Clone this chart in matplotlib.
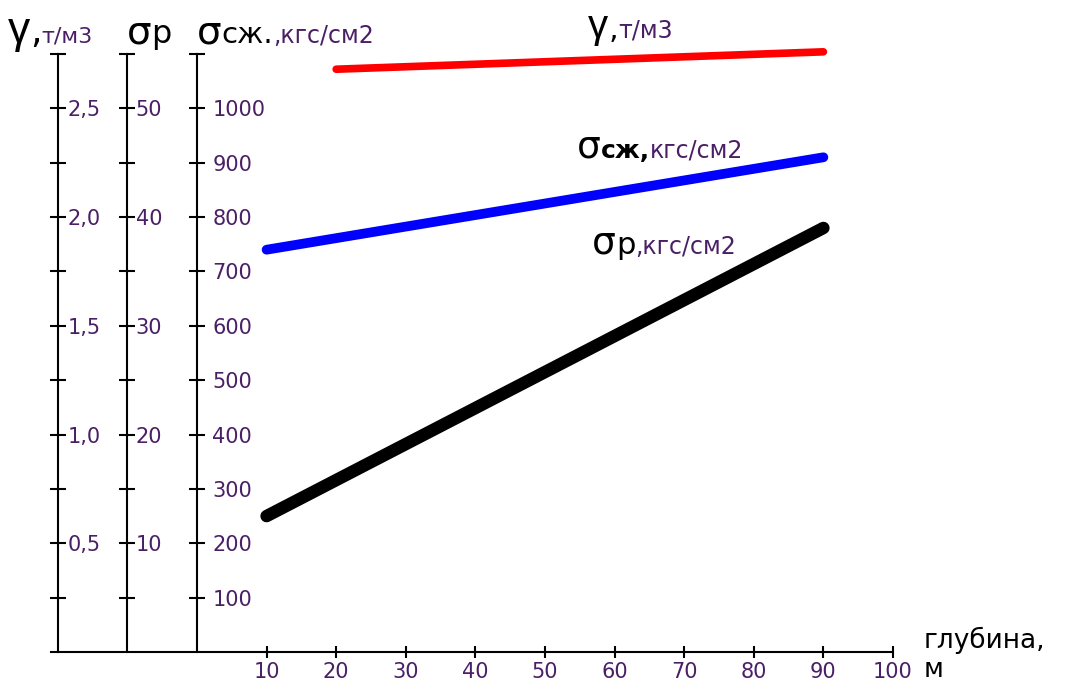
import matplotlib
matplotlib.use('Agg')
import matplotlib.pyplot as plt

plt.rcParams['font.family'] = ['DejaVu Sans']

# данные
depth_gamma = [20, 90]
gamma = [2.68, 2.76]          # т/м3
depth_szh = [10, 90]
sigma_szh = [740, 910]        # кгс/см2
depth_p = [10, 90]
sigma_p = [12.5, 39]          # кгс/см2

x_ticks = [10, 20, 30, 40, 50, 60, 70, 80, 90, 100]
x_labels = ['10', '20', '30', '40', '50', '60', '70', '80', '90', '100']
szh_ticks = [100, 200, 300, 400, 500, 600, 700, 800, 900, 1000, 1100]
szh_labels = ['100', '200', '300', '400', '500', '600', '700', '800', '900', '1000', '']
p_ticks = [5, 10, 15, 20, 25, 30, 35, 40, 45, 50, 55]
p_labels = ['', '10', '', '20', '', '30', '', '40', '', '50', '']
g_ticks = [0.25, 0.5, 0.75, 1.0, 1.25, 1.5, 1.75, 2.0, 2.25, 2.5, 2.75]
g_labels = ['', '0,5', '', '1,0', '', '1,5', '', '2,0', '', '2,5', '']

W, H = 1071, 682
TXT = '#4a1f66'
GAM = ['Liberation Sans', 'DejaVu Sans']

fig = plt.figure(figsize=(W / 100, H / 100), dpi=100)
ax = fig.add_axes([50.8 / W, 30 / H, (893 - 50.8) / W, (652 - 54) / H])
ax_p = ax.twinx()
ax_g = ax.twinx()

ax.set_xlim(-21, 100)
ax.set_ylim(0, 1100)
ax_p.set_ylim(0, 55)
ax_g.set_ylim(0, 2.75)

for a in (ax, ax_p, ax_g):
    for s in a.spines.values():
        s.set_visible(False)
        s.set_linewidth(1.5)

ax.spines['bottom'].set_visible(True)
ax.spines['right'].set_visible(True)
ax.spines['right'].set_position(('data', 0))
ax_p.spines['right'].set_visible(True)
ax_p.spines['right'].set_position(('data', -10))
ax_g.spines['right'].set_visible(True)
ax_g.spines['right'].set_position(('data', -20))

ax.yaxis.tick_right()
ax.set_yticks(szh_ticks, szh_labels)
ax_p.set_yticks(p_ticks, p_labels)
ax_g.set_yticks(g_ticks, g_labels)
ax.set_xticks(x_ticks, x_labels)

ax.tick_params(axis='y', direction='inout', length=12, width=1.5, pad=5,
               labelsize=15, labelcolor=TXT)
ax_p.tick_params(axis='y', direction='inout', length=12, width=1.5, pad=0,
                 labelsize=15, labelcolor=TXT)
ax_g.tick_params(axis='y', direction='inout', length=12, width=1.5, pad=1,
                 labelsize=15, labelcolor=TXT)
ax.tick_params(axis='x', direction='inout', length=8, width=1.5, pad=3,
               labelsize=15, labelcolor=TXT)

ax.plot(depth_szh, sigma_szh, color='#0000ff', lw=7, solid_capstyle='round')
ax_p.plot(depth_p, sigma_p, color='black', lw=9, solid_capstyle='round')
ax_g.plot(depth_gamma, gamma, color='#ff0000', lw=5.5, solid_capstyle='round',
          clip_on=False)

renderer = fig.canvas.get_renderer()


def rich_text(x, y, parts):
    # x, y - пиксели от левого верхнего угла (базовая линия)
    for s, size, color, weight, fam in parts:
        t = fig.text(x / W, 1 - y / H, s, fontsize=size, color=color,
                     weight=weight, family=fam, ha='left', va='baseline')
        x += t.get_window_extent(renderer).width


D = ['DejaVu Sans']
rich_text(8, 43, [('γ', 32, 'black', 'normal', GAM), (',', 26, 'black', 'normal', D),
                  ('т/м3', 16, TXT, 'normal', D)])
rich_text(127, 43, [('σ', 28, 'black', 'normal', D), ('р', 23, 'black', 'normal', D)])
rich_text(197, 43, [('σ', 28, 'black', 'normal', D), ('сж.', 21, 'black', 'normal', D),
                    (',кгс/см2', 17, TXT, 'normal', D)])

rich_text(588, 38, [('γ', 29, 'black', 'normal', GAM), (',', 22, 'black', 'normal', D),
                    ('т/м3', 17, TXT, 'normal', D)])
rich_text(577, 158, [('σ', 27, 'black', 'normal', D), ('сж,', 18, 'black', 'bold', D),
                     ('кгс/см2', 17, TXT, 'normal', D)])
rich_text(592, 254, [('σ', 27, 'black', 'normal', D), ('р', 22, 'black', 'normal', D),
                     (',кгс/см2', 17, TXT, 'normal', D)])

rich_text(924, 648, [('глубина,', 19, 'black', 'normal', D)])
rich_text(924, 677, [('м', 19, 'black', 'normal', D)])

fig.savefig('out.png', dpi=100)
